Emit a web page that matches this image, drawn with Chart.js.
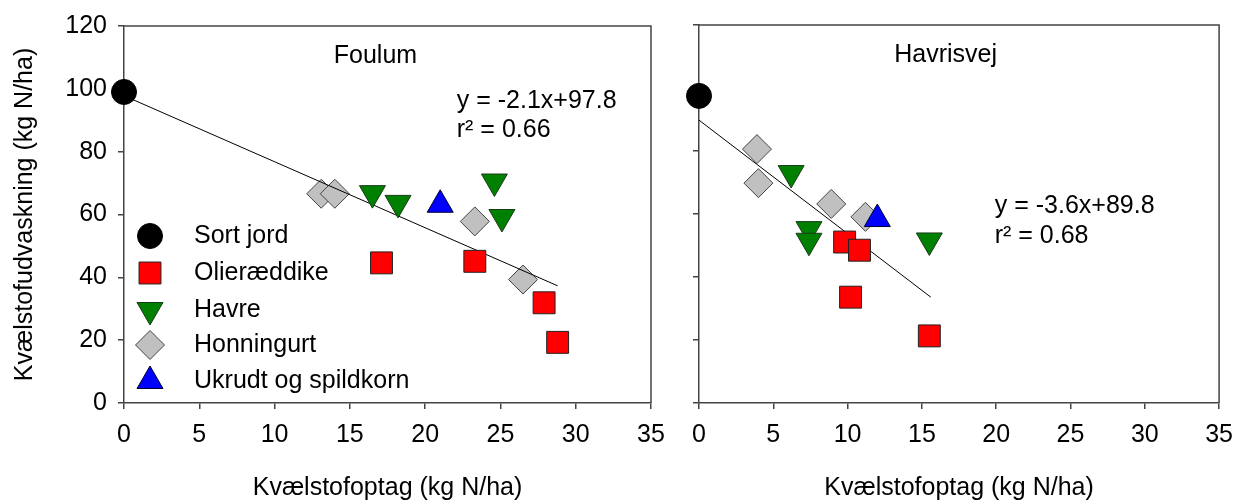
<!DOCTYPE html>
<html>
<head>
<meta charset="utf-8">
<script src="https://cdn.jsdelivr.net/npm/chart.js@4.4.1/dist/chart.umd.min.js"></script>
<style>
  body { margin: 0; background: #fff; width: 1244px; height: 503px; position: relative; overflow: hidden; }
  .panel { position: absolute; top: 0; }
  #foulumWrap { left: 0; }
  #havrisvejWrap { left: 660px; }
</style>
</head>
<body>
<div class="panel" id="foulumWrap"><canvas id="foulumChart" width="680" height="503"></canvas></div>
<div class="panel" id="havrisvejWrap"><canvas id="havrisvejChart" width="584" height="503"></canvas></div>
<script>
// Series names
const seriesNames = ['Sort jord', 'Olieræddike', 'Havre', 'Honningurt', 'Ukrudt og spildkorn'];

// Foulum
const foulumSortX = [0];
const foulumSortY = [99];
const foulumOlieX = [17.1, 23.3, 27.9, 28.8];
const foulumOlieY = [44.6, 45.1, 31.9, 19.3];
const foulumHavreX = [16.5, 18.2, 24.6, 25.1];
const foulumHavreY = [66.8, 63.7, 70.5, 59.2];
const foulumHonX = [13.1, 14.0, 23.3, 26.5];
const foulumHonY = [66.6, 66.6, 57.8, 39.3];
const foulumUkrX = [21.0];
const foulumUkrY = [63.1];
const foulumFitX = [0, 28.8];
const foulumFitY = [97.8, 37.3];

// Havrisvej
const havSortX = [0];
const havSortY = [97.5];
const havOlieX = [9.8, 10.8, 10.2, 15.5];
const havOlieY = [51.1, 48.5, 33.6, 21.3];
const havHavreX = [6.2, 7.4, 7.4, 15.5];
const havHavreY = [73.0, 55.2, 51.5, 51.6];
const havHonX = [3.9, 4.0, 8.9, 11.2];
const havHonY = [80.6, 69.8, 63.2, 59.1];
const havUkrX = [12.0];
const havUkrY = [58.4];
const havFitX = [0, 15.6];
const havFitY = [89.8, 33.6];

// Axis ticks
const xTicks = [0, 5, 10, 15, 20, 25, 30, 35];
const yTicks = [0, 20, 40, 60, 80, 100, 120];

const FONT = "'Liberation Sans', Arial, sans-serif";
const FSIZE = 25;
Chart.defaults.font.family = FONT;
Chart.defaults.font.size = FSIZE;
Chart.defaults.color = '#000';

// marker look per series (order: lower value is drawn on top)
const markers = [
    { pointStyle: 'circle', radius: 12.5, rotation: 0, bg: '#000000', border: '#000000', order: 0 },
    { pointStyle: 'rect', radius: 15.5, rotation: 0, bg: '#ff0000', border: '#222222', order: 2 },
    { pointStyle: 'triangle', radius: 15, rotation: 180, bg: '#008000', border: '#1a3a1a', order: 3 },
    { pointStyle: 'rectRot', radius: 14.5, rotation: 0, bg: '#c0c0c0', border: '#444444', order: 5 },
    { pointStyle: 'triangle', radius: 15, rotation: 0, bg: '#0000ff', border: '#000033', order: 1 }
];

function toPoints(xs, ys) {
    return xs.map((x, i) => ({ x: x, y: ys[i] }));
}

function buildDatasets(groups, fitX, fitY) {
    const sets = groups.map((g, i) => ({
        label: seriesNames[i],
        data: toPoints(g[0], g[1]),
        pointStyle: markers[i].pointStyle,
        pointRadius: markers[i].radius,
        pointHoverRadius: markers[i].radius,
        pointRotation: markers[i].rotation,
        backgroundColor: markers[i].bg,
        borderColor: markers[i].border,
        borderWidth: 1,
        showLine: false,
        clip: false,
        order: markers[i].order
    }));
    sets.push({
        label: 'fit',
        data: toPoints(fitX, fitY),
        showLine: true,
        borderColor: '#000',
        borderWidth: 1,
        pointRadius: 0,
        fill: false,
        order: 4
    });
    return sets;
}

// top and right frame lines
const frameBox = {
    id: 'frameBox',
    afterDraw(chart) {
        const { ctx, chartArea } = chart;
        ctx.save();
        ctx.strokeStyle = '#444';
        ctx.lineWidth = 1.5;
        ctx.beginPath();
        ctx.moveTo(chartArea.left, chartArea.top);
        ctx.lineTo(chartArea.right, chartArea.top);
        ctx.lineTo(chartArea.right, chartArea.bottom);
        ctx.stroke();
        ctx.restore();
    }
};

// text notes placed in data units
const notes = {
    id: 'notes',
    afterDatasetsDraw(chart, args, opts) {
        const { ctx, scales } = chart;
        ctx.save();
        ctx.fillStyle = '#000';
        ctx.font = FSIZE + 'px ' + FONT;
        ctx.textBaseline = 'middle';
        (opts.items || []).forEach(item => {
            ctx.textAlign = item.align || 'left';
            ctx.fillText(item.text, scales.x.getPixelForValue(item.x), scales.y.getPixelForValue(item.y));
        });
        ctx.restore();
    }
};

// legend drawn inside the Foulum plot
const innerLegend = {
    id: 'innerLegend',
    afterDatasetsDraw(chart, args, opts) {
        if (!opts.show) return;
        const { ctx } = chart;
        const rows = [236, 273, 310, 345, 381];
        ctx.save();
        seriesNames.forEach((name, i) => {
            const m = markers[i];
            ctx.fillStyle = m.bg;
            ctx.strokeStyle = m.border;
            ctx.lineWidth = 1;
            Chart.helpers.drawPoint(ctx, { pointStyle: m.pointStyle, radius: m.radius, rotation: m.rotation, borderWidth: 1 }, 150, rows[i]);
            ctx.fillStyle = '#000';
            ctx.font = FSIZE + 'px ' + FONT;
            ctx.textAlign = 'left';
            ctx.textBaseline = 'middle';
            ctx.fillText(name, 194, rows[i]);
        });
        ctx.restore();
    }
};

function makeOptions(showYLabels, yAxisWidth, rightPad, noteItems, showLegend) {
    return {
        responsive: false,
        animation: false,
        layout: { padding: { left: 0, top: 25, right: rightPad, bottom: 0 } },
        plugins: {
            legend: { display: false },
            tooltip: { enabled: false },
            notes: { items: noteItems },
            innerLegend: { show: showLegend }
        },
        scales: {
            x: {
                type: 'linear',
                min: 0,
                max: 35,
                afterBuildTicks: s => { s.ticks = xTicks.map(v => ({ value: v })); },
                afterFit: s => { s.height = 100; },
                grid: { drawOnChartArea: false, drawTicks: true, tickLength: 6, color: '#444', lineWidth: 1.5 },
                border: { display: true, color: '#444', width: 1.5 },
                ticks: { padding: 11, maxRotation: 0 },
                title: { display: true, text: 'Kvælstofoptag (kg N/ha)', padding: 0 }
            },
            y: {
                type: 'linear',
                min: 0,
                max: 120,
                afterBuildTicks: s => { s.ticks = yTicks.map(v => ({ value: v })); },
                afterFit: s => { s.width = yAxisWidth; },
                grid: { drawOnChartArea: false, drawTicks: true, tickLength: 6, color: '#444', lineWidth: 1.5 },
                border: { display: true, color: '#444', width: 1.5 },
                ticks: { display: showYLabels, padding: 11 },
                title: { display: showYLabels, text: 'Kvælstofudvaskning (kg N/ha)', padding: { top: 10, bottom: 0 } }
            }
        }
    };
}

new Chart(document.getElementById('foulumChart'), {
    type: 'scatter',
    data: {
        datasets: buildDatasets([
            [foulumSortX, foulumSortY],
            [foulumOlieX, foulumOlieY],
            [foulumHavreX, foulumHavreY],
            [foulumHonX, foulumHonY],
            [foulumUkrX, foulumUkrY]
        ], foulumFitX, foulumFitY)
    },
    options: makeOptions(true, 124, 29, [
        { text: 'Foulum', x: 16.7, y: 110.5, align: 'center' },
        { text: 'y = -2.1x+97.8', x: 22.1, y: 96 },
        { text: 'r² = 0.66', x: 22.1, y: 86.8 }
    ], true),
    plugins: [frameBox, notes, innerLegend]
});

new Chart(document.getElementById('havrisvejChart'), {
    type: 'scatter',
    data: {
        datasets: buildDatasets([
            [havSortX, havSortY],
            [havOlieX, havOlieY],
            [havHavreX, havHavreY],
            [havHonX, havHonY],
            [havUkrX, havUkrY]
        ], havFitX, havFitY)
    },
    options: makeOptions(false, 39, 19, [
        { text: 'Havrisvej', x: 16.6, y: 110.5, align: 'center' },
        { text: 'y = -3.6x+89.8', x: 19.9, y: 62.5 },
        { text: 'r² = 0.68', x: 19.9, y: 53 }
    ], false),
    plugins: [frameBox, notes, innerLegend]
});
</script>
</body>
</html>
